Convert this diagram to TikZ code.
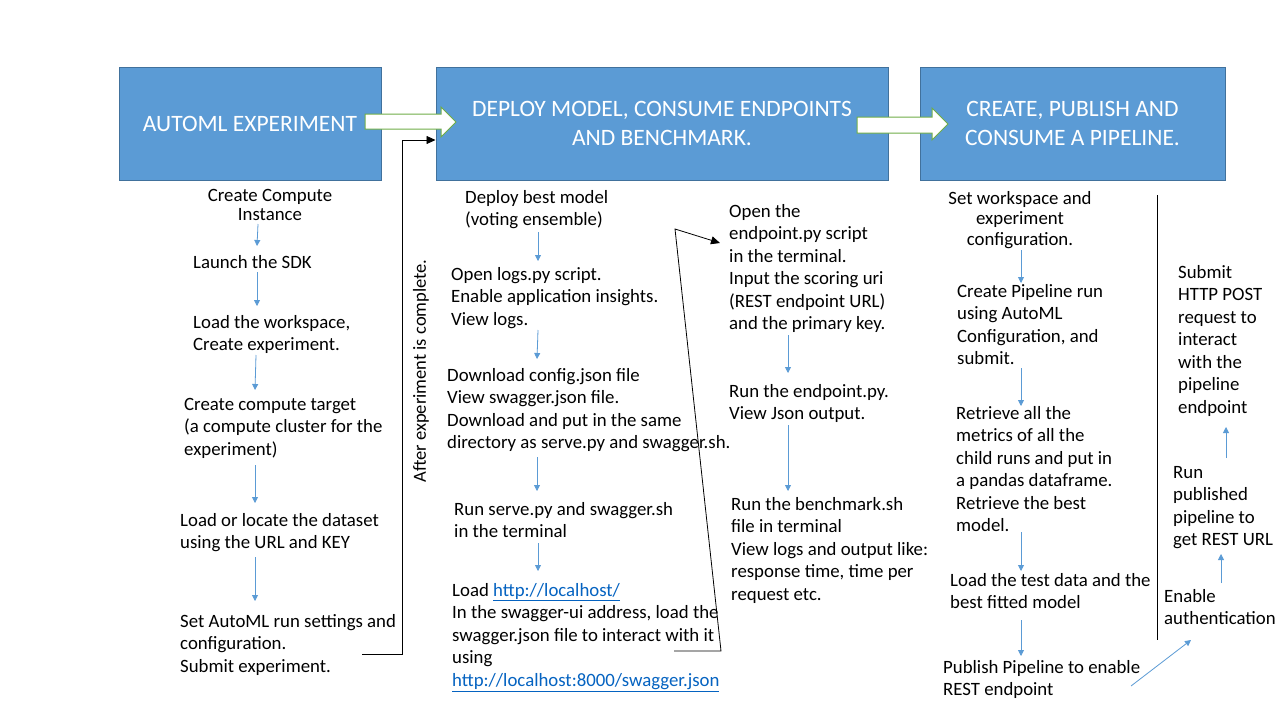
\documentclass[tikz,border=0pt]{standalone}
\usepackage{fontspec}
\setmainfont{Carlito}
\usetikzlibrary{arrows.meta}
\definecolor{boxblue}{HTML}{5B9BD5}
\definecolor{boxedge}{HTML}{41719C}
\definecolor{arrgreen}{HTML}{70AD47}
\definecolor{linkblue}{HTML}{0563C1}
\newcommand{\lnk}[1]{\textcolor{linkblue}{\underline{#1}}}
\begin{document}
\begin{tikzpicture}[x=1pt,y=-1pt,
 hdr/.style={fill=boxblue,draw=boxedge,line width=1pt,text=white,align=center,
   font=\fontsize{23.5}{29}\selectfont,minimum height=113pt},
 txt/.style={anchor=north west,inner sep=0pt,align=left,font=\fontsize{18.8}{22.5}\selectfont},
 ctxt/.style={anchor=north,inner sep=0pt,align=center},
 barrow/.style={draw=boxblue,line width=0.8pt,-{Triangle[width=6pt,length=6pt]}},
 karrow/.style={draw=black,line width=0.8pt,-{Triangle[width=8pt,length=9pt]}},
 kline/.style={draw=black,line width=0.8pt},
 block/.style={fill=white,draw=arrgreen,line width=1pt}]
\useasboundingbox[fill=white] (0,0) rectangle (1280,720);

% header boxes
\node[hdr,minimum width=262pt] (h1) at (250,123.5) {AUTOML EXPERIMENT};
\node[hdr,minimum width=452pt] (h2) at (662,123.5) {DEPLOY MODEL, CONSUME ENDPOINTS\\AND BENCHMARK.};
\node[hdr,minimum width=305pt] (h3) at (1072.5,123.5) {CREATE, PUBLISH AND\\CONSUME A PIPELINE.};

% block arrows
\draw[block] (365,114) -- (441,114) -- (441,107) -- (456,122) -- (441,137) -- (441,129) -- (365,129) -- cycle;
\draw[block] (857,117) -- (932,117) -- (932,108) -- (948,124) -- (932,140) -- (932,133) -- (857,133) -- cycle;

% column 1
\node[ctxt,font=\fontsize{18.8}{19.5}\selectfont] (n11) at (270,189) {Create Compute\\Instance};
\node[txt] (n12) at (193,255) {Launch the SDK};
\node[txt] (n13) at (193,315) {Load the workspace,\\Create experiment.};
\node[txt] (n14) at (184,398) {Create compute target\\(a compute cluster for the\\experiment)};
\node[txt] (n15) at (180,513) {Load or locate the dataset\\using the URL and KEY};
\node[txt] (n16) at (180,614) {Set AutoML run settings and\\configuration.\\Submit experiment.};

% column 2
\node[txt] (n21) at (465,190) {Deploy best model\\(voting ensemble)};
\node[txt] (n22) at (451,267) {Open logs.py script.\\Enable application insights.\\View logs.};
\node[txt] (n23) at (447,368) {Download config.json file\\View swagger.json file.\\Download and put in the same\\directory as serve.py and swagger.sh.};
\node[txt] (n24) at (454,502) {Run serve.py and swagger.sh\\in the terminal};
\node[txt] (n25) at (452,583) {Load \lnk{http://localhost/}\\In the swagger-ui address, load the\\swagger.json file to interact with it\\using\\\lnk{http://localhost:8000/swagger.json}};

% column 3
\node[txt] (n31) at (729,204) {Open the\\endpoint.py script\\in the terminal.\\Input the scoring uri\\(REST endpoint URL)\\and the primary key.};
\node[txt] (n32) at (729,384) {Run the endpoint.py.\\View Json output.};
\node[txt] (n33) at (731,497) {Run the benchmark.sh\\file in terminal\\View logs and output like:\\response time, time per\\request etc.};

% column 4
\node[ctxt,font=\fontsize{18.8}{20.5}\selectfont] (n41) at (1020,191) {Set workspace and\\experiment\\configuration.};
\node[txt] (n42) at (957,284) {Create Pipeline run\\using AutoML\\Configuration, and\\submit.};
\node[txt] (n43) at (956,406) {Retrieve all the\\metrics of all the\\child runs and put in\\a pandas dataframe.\\Retrieve the best\\model.};
\node[txt] (n44) at (950,573) {Load the test data and the\\best fitted model};
\node[txt] (n45) at (943,660) {Publish Pipeline to enable\\REST endpoint};

% column 5
\node[txt] (n51) at (1164,589) {Enable\\authentication};
\node[txt] (n52) at (1173,466) {Run\\published\\pipeline to\\get REST URL};
\node[txt] (n53) at (1178,265) {Submit\\HTTP POST\\request to\\interact\\with the\\pipeline\\endpoint};

% rotated note
\node[rotate=90,inner sep=0pt,font=\fontsize{18.5}{19}\selectfont] (note) at (421,371) {After experiment is complete.};

% divider
\coordinate (d1) at (1157,195);
\coordinate (d2) at (1157,640);
\draw[kline] (d1) -- (d2);

% blue arrow coordinates
\coordinate (a1s) at (258,224); \coordinate (a1e) at (257,246);
\coordinate (a2s) at (257,272); \coordinate (a2e) at (257,306);
\coordinate (a3s) at (256,355); \coordinate (a3e) at (255,390);
\coordinate (a4s) at (255,465); \coordinate (a4e) at (255,503);
\coordinate (a5s) at (255,557); \coordinate (a5e) at (255,601);
\coordinate (b1s) at (538,232); \coordinate (b1e) at (538,261);
\coordinate (b2s) at (538,330); \coordinate (b2e) at (537,359);
\coordinate (b3s) at (537,457); \coordinate (b3e) at (537,491);
\coordinate (b4s) at (538,543); \coordinate (b4e) at (538,571);
\coordinate (c1s) at (788,335); \coordinate (c1e) at (788,373);
\coordinate (c2s) at (788,425); \coordinate (c2e) at (788,491);
\coordinate (e1s) at (1021,250); \coordinate (e1e) at (1021,283);
\coordinate (e2s) at (1021,368); \coordinate (e2e) at (1021,406);
\coordinate (e3s) at (1021,532); \coordinate (e3e) at (1021,571);
\coordinate (e4s) at (1021,620); \coordinate (e4e) at (1021,656);
\coordinate (f1s) at (1131,686); \coordinate (f1e) at (1191,640);
\coordinate (f2s) at (1221,583); \coordinate (f2e) at (1221,554);
\coordinate (f3s) at (1226,458); \coordinate (f3e) at (1226,427);
\foreach \p in {a1,a2,a3,a4,a5,b1,b2,b3,b4,c1,c2,e1,e2,e3,e4,f1,f2,f3}
  \draw[barrow] (\p s) -- (\p e);

% black connectors
\coordinate (k1a) at (362,654);
\coordinate (k1b) at (402,654);
\coordinate (k1c) at (402,140);
\draw[karrow] (k1a) -- (k1b) -- (k1c) -- (h2.west |- k1c);
\coordinate (k2a) at (674,651);
\coordinate (k2b) at (721,651);
\coordinate (k2c) at (675,229);
\coordinate (k2d) at (720,243);
\draw[karrow] (k2a) -- (k2b) -- (k2c) -- (k2d);
\end{tikzpicture}
\end{document}
